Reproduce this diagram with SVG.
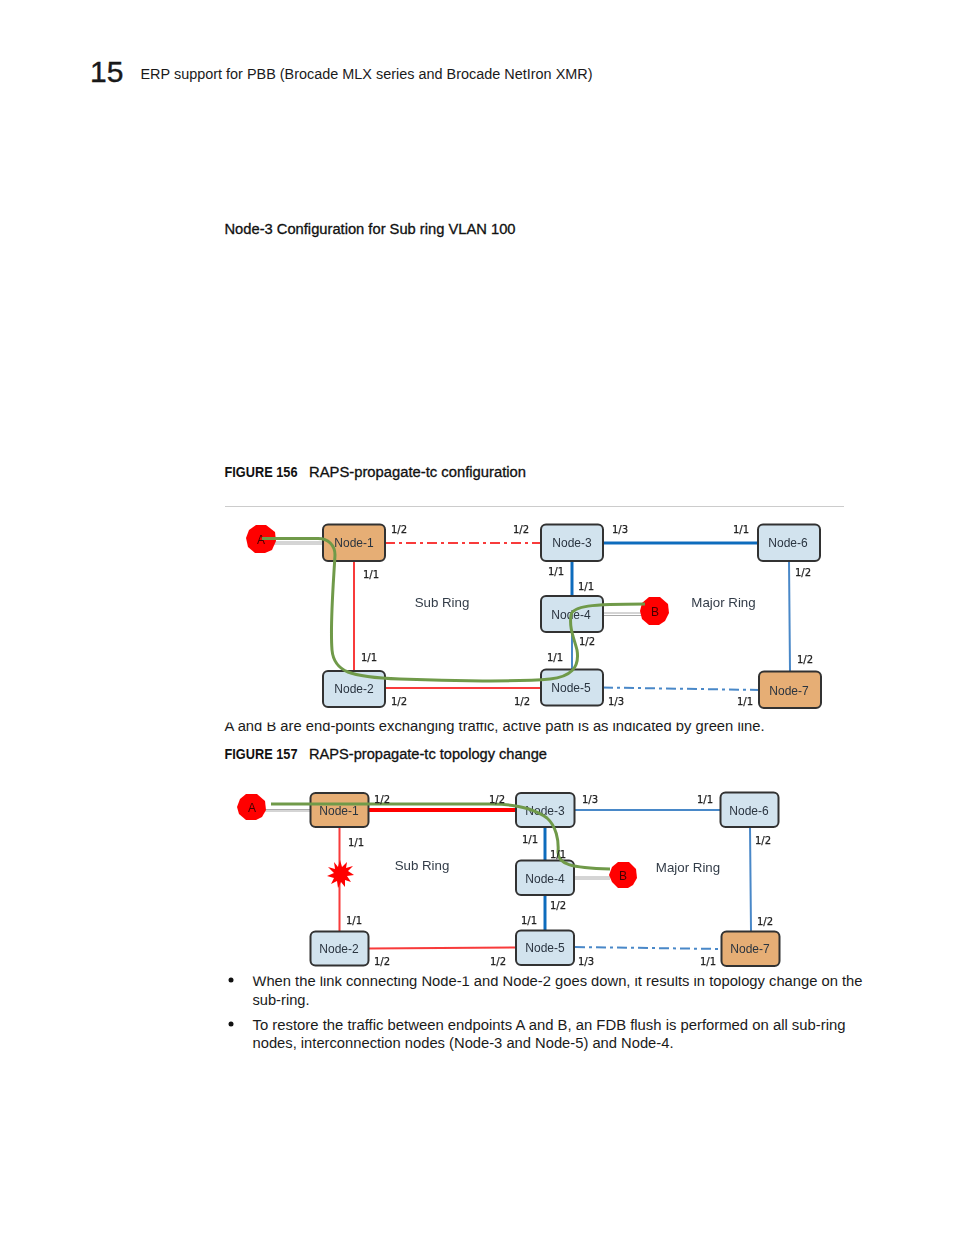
<svg xmlns="http://www.w3.org/2000/svg" width="954" height="1235" viewBox="0 0 954 1235">
<style>
text{font-family:"Liberation Sans",Arial,sans-serif;fill:#1a1a1a}
.b{font-size:14px}
.h{font-size:14px;fill:#111;stroke:#111;stroke-width:.3}
.fg{font-size:14px;font-weight:700;fill:#111}
.n{fill:#d2e3ee;stroke:#333;stroke-width:2}
.o{fill:#e6ae74;stroke:#333;stroke-width:2}
.t{font-size:12px;text-anchor:middle;fill:#2a3440}
.p{font-size:10px;text-anchor:middle;fill:#222;font-family:"DejaVu Sans",sans-serif;stroke:#222;stroke-width:.25}
.r{font-size:13.300px;text-anchor:middle;fill:#333c48}
.l{fill:none}
.red{stroke:#f83a3a;stroke-width:2}
.blue{stroke:#0f6cbd;stroke-width:3}
.lb{stroke:#4a88c8;stroke-width:2}
.gr{fill:none;stroke:#6f9a4a;stroke-width:3}
.gy{fill:none;stroke:#aaa;stroke-width:1}
.ep{fill:#f00}
.et{font-size:12px;text-anchor:middle;fill:#400}
</style>
<defs><filter id="soft" x="-2%" y="-2%" width="104%" height="104%"><feGaussianBlur stdDeviation="0.35"/></filter></defs>
<text x="90" y="82" style="font-size:30px;stroke:#111;stroke-width:.4" fill="#111">15</text>
<text class="b" x="140.500" y="79" textLength="452" lengthAdjust="spacingAndGlyphs">ERP support for PBB (Brocade MLX series and Brocade NetIron XMR)</text>
<text class="h" x="224.500" y="234" textLength="291" lengthAdjust="spacingAndGlyphs">Node-3 Configuration for Sub ring VLAN 100</text>
<text class="fg" x="224.500" y="477" textLength="73" lengthAdjust="spacingAndGlyphs">FIGURE 156</text>
<text class="h" x="309" y="477" textLength="217" lengthAdjust="spacingAndGlyphs">RAPS-propagate-tc configuration</text>
<line x1="225" y1="506.500" x2="844" y2="506.500" stroke="#ccc"/>
<text class="b" x="224.500" y="731" textLength="540" lengthAdjust="spacingAndGlyphs">A and B are end-points exchanging traffic, active path is as indicated by green line.</text>
<text class="fg" x="224.500" y="759" textLength="73" lengthAdjust="spacingAndGlyphs">FIGURE 157</text>
<text class="h" x="309" y="759" textLength="238" lengthAdjust="spacingAndGlyphs">RAPS-propagate-tc topology change</text>
<text class="b" x="252.500" y="986" textLength="610" lengthAdjust="spacingAndGlyphs">When the link connecting Node-1 and Node-2 goes down, it results in topology change on the</text>
<rect x="224" y="712" width="626" height="10.500" fill="#fff"/>
<rect x="245" y="968" width="565" height="8.500" fill="#fff"/>

<g filter="url(#soft)">
<g id="fig156-connectors">
<path class="l" stroke="#f83a3a" stroke-width="2" stroke-dasharray="10 4 3 4" d="M385 543H541"/>
<path class="l red" d="M354 561V670M385 688H541"/>
<path class="l blue" d="M603 543H758M572 561V596"/>
<path class="l lb" d="M572 632V669M789 561L790 671"/>
<path class="l lb" stroke-dasharray="10 4 3 4" d="M603 687.500L759 690"/>
<path class="gy" d="M270 542H323M270 544H323M603 613H645M603 615.500H645"/>
</g>
<g id="f1-node-1"><rect class="o" x="323" y="524.500" width="62" height="36.500" rx="5"/><text class="t" x="354" y="547">Node-1</text></g>
<g id="f1-node-2"><rect class="n" x="323" y="671" width="62" height="36" rx="5"/><text class="t" x="354" y="693">Node-2</text></g>
<g id="f1-node-3"><rect class="n" x="541" y="524.500" width="62" height="36.500" rx="5"/><text class="t" x="572" y="547">Node-3</text></g>
<g id="f1-node-4"><rect class="n" x="541" y="596" width="62" height="36" rx="5"/><text class="t" x="571" y="619">Node-4</text></g>
<g id="f1-node-5"><rect class="n" x="541" y="669.500" width="62" height="36" rx="5"/><text class="t" x="571" y="692">Node-5</text></g>
<g id="f1-node-6"><rect class="n" x="758" y="524.500" width="62" height="36.500" rx="5"/><text class="t" x="788" y="547">Node-6</text></g>
<g id="f1-node-7"><rect class="o" x="759" y="671.500" width="62" height="36.500" rx="5"/><text class="t" x="789" y="695">Node-7</text></g>
<g id="f1-a"><polygon class="ep" points="256,525 266,525 275,532 276,541 272,550 265,553 255,553 248,547 246,538 249,530"/><text class="et" x="261" y="544">A</text></g>
<g id="f1-b"><polygon class="ep" points="649,597 660,597 668,604 669,613 665,621 659,625 649,625 642,619 640,611 642,603"/><text class="et" x="655" y="616">B</text></g>
<g id="fig156-path">
<path class="gr" d="M262 538.500H318C328 538.500 335 545 335 555C333 590 330 625 332 650C334 672 350 677 400 679C450 681 520 682 550 679C570 677 580 668 577 650C574 638 569 628 571 615C573 606 590 604 645 604"/>
</g>
<g id="f1-labels">
<text class="p" x="399" y="533">1/2</text><text class="p" x="521" y="533">1/2</text><text class="p" x="620" y="533">1/3</text><text class="p" x="741" y="533">1/1</text>
<text class="p" x="371" y="578">1/1</text><text class="p" x="556" y="575">1/1</text><text class="p" x="586" y="590">1/1</text><text class="p" x="803" y="576">1/2</text>
<text class="p" x="587" y="645">1/2</text><text class="p" x="369" y="661">1/1</text><text class="p" x="555" y="661">1/1</text><text class="p" x="805" y="663">1/2</text>
<text class="p" x="399" y="705">1/2</text><text class="p" x="522" y="705">1/2</text><text class="p" x="616" y="705">1/3</text><text class="p" x="745" y="705">1/1</text>
<text class="r" x="442" y="607">Sub Ring</text><text class="r" x="723.500" y="607">Major Ring</text>
</g>

<g id="fig157-connectors">
<path class="l" stroke="#f00" stroke-width="4" d="M369 810H516"/>
<path class="l red" d="M339.500 827V931M369 948.500L516 947.500"/>
<path class="l blue" d="M545 827V860M545 895V930" stroke-width="2.500"/>
<path class="l lb" d="M575 810H720M750 827L751 931"/>
<path class="l lb" stroke-dasharray="10 4 3 4" d="M575 947L721 949"/>
<path class="gy" d="M265 809.500H310M265 811H310M574 877H610M574 879H610"/>
</g>
<g id="f2-node-1"><rect class="o" x="310.500" y="793" width="58" height="34" rx="5"/><text class="t" x="339" y="815">Node-1</text></g>
<g id="f2-node-2"><rect class="n" x="310.500" y="931.500" width="58" height="34" rx="5"/><text class="t" x="339" y="953">Node-2</text></g>
<g id="f2-node-3"><rect class="n" x="516" y="793" width="58.500" height="34" rx="5"/><text class="t" x="545" y="815">Node-3</text></g>
<g id="f2-node-4"><rect class="n" x="516" y="860.500" width="58" height="34.500" rx="5"/><text class="t" x="545" y="883">Node-4</text></g>
<g id="f2-node-5"><rect class="n" x="516" y="930.500" width="58" height="34.500" rx="5"/><text class="t" x="545" y="952">Node-5</text></g>
<g id="f2-node-6"><rect class="n" x="720.500" y="792.500" width="58" height="34.500" rx="5"/><text class="t" x="749" y="815">Node-6</text></g>
<g id="f2-node-7"><rect class="o" x="721.500" y="931.500" width="58" height="34.500" rx="5"/><text class="t" x="750" y="953">Node-7</text></g>
<g id="f2-a"><polygon class="ep" points="246,794 257,794 265,801 266,810 262,817 256,820 246,820 239,814 237,807 240,799"/><text class="et" x="252" y="812">A</text></g>
<g id="f2-b"><polygon class="ep" points="618,862 629,862 636,869 637,878 633,885 628,888 618,888 612,882 609,875 612,867"/><text class="et" x="623" y="880">B</text></g>
<g id="f2-burst"><polygon fill="#f00" points="340,860 342,867 347,862 346,868 353,866 348,871 354,875 347,876 351,882 345,880 345,887 341,882 338,888 337,881 331,884 334,878 327,876 334,873 328,867 335,869 334,862 338,867"/></g>
<g id="fig157-path"><path class="gr" stroke-width="2.500" d="M271 804H490C515 804 535 809 547 818C556 826 559 840 558 852C558 864 570 868 610 869"/></g>
<g id="f2-labels">
<text class="p" x="382" y="803">1/2</text><text class="p" x="497" y="803">1/2</text><text class="p" x="590" y="803">1/3</text><text class="p" x="705" y="803">1/1</text>
<text class="p" x="356" y="846">1/1</text><text class="p" x="530" y="843">1/1</text><text class="p" x="558" y="858">1/1</text><text class="p" x="763" y="844">1/2</text>
<text class="p" x="558" y="909">1/2</text><text class="p" x="354" y="924">1/1</text><text class="p" x="529" y="924">1/1</text><text class="p" x="765" y="925">1/2</text>
<text class="p" x="382" y="965">1/2</text><text class="p" x="498" y="965">1/2</text><text class="p" x="586" y="965">1/3</text><text class="p" x="708" y="965">1/1</text>
<text class="r" x="422" y="870">Sub Ring</text><text class="r" x="688" y="872">Major Ring</text>
</g>
</g>
<circle cx="231" cy="980" r="2.500" fill="#111"/>
<circle cx="231" cy="1024" r="2.500" fill="#111"/>
<text class="b" x="252.500" y="1005" textLength="57" lengthAdjust="spacingAndGlyphs">sub-ring.</text>
<text class="b" x="252.500" y="1030" textLength="593" lengthAdjust="spacingAndGlyphs">To restore the traffic between endpoints A and B, an FDB flush is performed on all sub-ring</text>
<text class="b" x="252.500" y="1048" textLength="421" lengthAdjust="spacingAndGlyphs">nodes, interconnection nodes (Node-3 and Node-5) and Node-4.</text>
</svg>
